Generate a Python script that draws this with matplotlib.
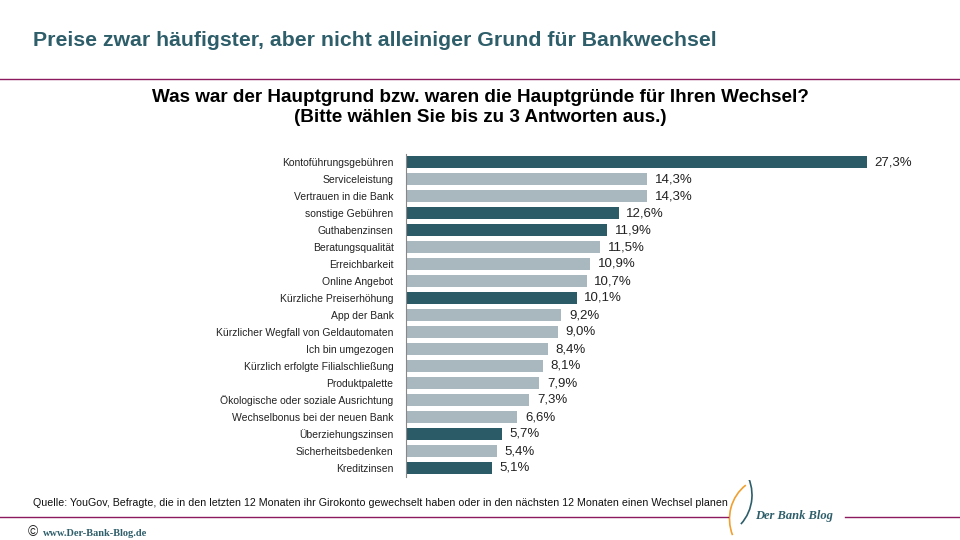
import matplotlib
matplotlib.use("Agg")
import matplotlib.pyplot as plt
from matplotlib.patches import Arc

categories = [
    "Kontoführungsgebühren", "Serviceleistung", "Vertrauen in die Bank",
    "sonstige Gebühren", "Guthabenzinsen", "Beratungsqualität",
    "Erreichbarkeit", "Online Angebot", "Kürzliche Preiserhöhung",
    "App der Bank", "Kürzlicher Wegfall von Geldautomaten",
    "Ich bin umgezogen", "Kürzlich erfolgte Filialschließung",
    "Produktpalette", "Ökologische oder soziale Ausrichtung",
    "Wechselbonus bei der neuen Bank", "Überziehungszinsen",
    "Sicherheitsbedenken", "Kreditzinsen",
]
values = [27.3, 14.3, 14.3, 12.6, 11.9, 11.5, 10.9, 10.7, 10.1, 9.2,
          9.0, 8.4, 8.1, 7.9, 7.3, 6.6, 5.7, 5.4, 5.1]
price_related = [True, False, False, True, True, False, False, False, True,
                 False, False, False, False, False, False, False, True,
                 False, True]

DARK = "#2B5B66"
LIGHT = "#A9B8BE"
PURPLE = "#8B1A5E"

plt.rcParams["font.family"] = ["Liberation Sans", "DejaVu Sans"]

fig = plt.figure(figsize=(9.6, 5.4), dpi=100)

ax = fig.add_axes([406/960, 1 - 476.5/540, 506.6/960, 323/540])
y = list(range(len(categories)))
colors = [DARK if p else LIGHT for p in price_related]
ax.barh(y, values, height=0.76, color=colors)
ax.set_ylim(len(categories) - 0.5, -0.5)
ax.set_xlim(0, 30)
ax.set_yticks(y)
ax.set_yticklabels(categories, fontsize=7.5, color="#222222")
ax.tick_params(axis="y", length=0, pad=9)
ax.set_xticks([])
for s in ["top", "right", "bottom"]:
    ax.spines[s].set_visible(False)
ax.spines["left"].set_color("#888888")
ax.spines["left"].set_linewidth(0.8)
for yi, v in zip(y, values):
    ax.text(v + 0.45, yi, f"{v:.1f}".replace(".", ",") + "%", va="center",
            ha="left", fontsize=9.5, color="#222222")

# Header
fig.text(33/960, 1 - 40/540, "Preise zwar häufigster, aber nicht alleiniger Grund für Bankwechsel",
         fontsize=15.3, fontweight="bold", color="#2E5E6A", va="center", ha="left")
fig.add_artist(plt.Line2D([0, 1], [1 - 79/540, 1 - 79/540], color=PURPLE, lw=1.0))
fig.text(0.5, 1 - 97/540, "Was war der Hauptgrund bzw. waren die Hauptgründe für Ihren Wechsel?",
         fontsize=13.6, fontweight="bold", color="black", ha="center", va="center")
fig.text(0.5, 1 - 117/540, "(Bitte wählen Sie bis zu 3 Antworten aus.)",
         fontsize=13.6, fontweight="bold", color="black", ha="center", va="center")

# Footer
fig.text(33/960, 1 - 503/540,
         "Quelle: YouGov, Befragte, die in den letzten 12 Monaten ihr Girokonto gewechselt haben oder in den nächsten 12 Monaten einen Wechsel planen",
         fontsize=7.7, color="#111111", va="center", ha="left")
fig.add_artist(plt.Line2D([0, 728/960], [1 - 517/540, 1 - 517/540], color=PURPLE, lw=1.0))
fig.add_artist(plt.Line2D([845/960, 1], [1 - 517/540, 1 - 517/540], color=PURPLE, lw=1.0))
fig.text(755/960, 1 - 516/540, "Der Bank Blog", fontsize=9, fontstyle="italic", fontweight="bold",
         family=["Liberation Serif", "DejaVu Serif"], color="#2E5E6A", va="center", ha="left")
# logo swoosh
lax = fig.add_axes([712/960, 1 - 540/540, 50/960, 60/540])
lax.set_xlim(0, 1); lax.set_ylim(0, 1); lax.axis("off")
lax.add_patch(Arc((1.15, 0.35), 1.6, 1.4, theta1=130, theta2=200, color="#F0A030", lw=1.2))
lax.add_patch(Arc((0.0, 0.75), 1.6, 1.4, theta1=-40, theta2=30, color="#2E5E6A", lw=1.2))

fig.text(28/960, 1 - 532/540, "©", fontsize=10, color="#222222", va="center", ha="left")
fig.text(43/960, 1 - 533/540, "www.Der-Bank-Blog.de", fontsize=7.5, fontweight="bold",
         family=["Liberation Serif", "DejaVu Serif"], color="#2E5E6A", va="center", ha="left")

fig.savefig("out.png", dpi=100)
